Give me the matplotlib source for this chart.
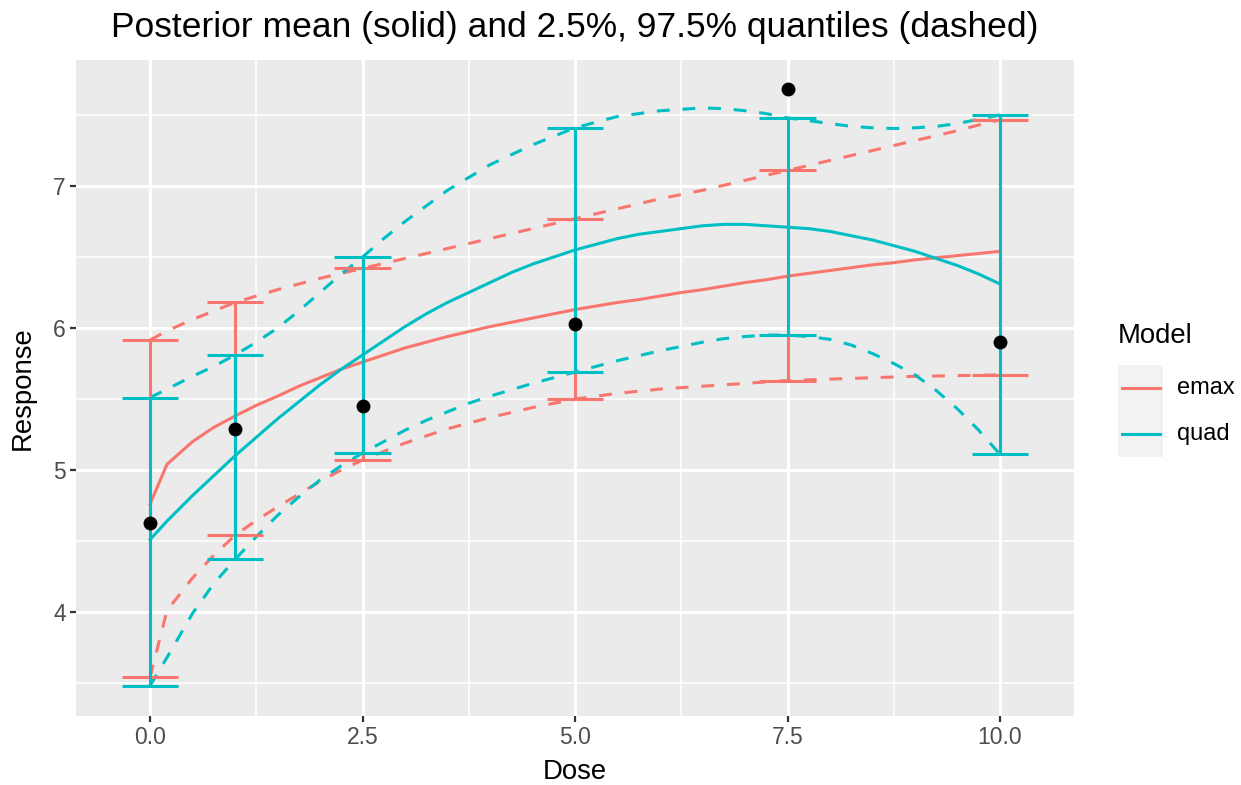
import numpy as np
import matplotlib
matplotlib.use("Agg")
import matplotlib.pyplot as plt
from matplotlib.patches import Rectangle
from matplotlib.lines import Line2D

plt.rcParams['font.family'] = ['Liberation Sans', 'DejaVu Sans']

# dose grid used for the posterior curves
doses = [0, 0.2, 0.5, 0.75, 1, 1.25, 1.5, 1.75, 2, 2.25, 2.5, 2.75, 3, 3.25, 3.5, 3.75,
         4, 4.25, 4.5, 4.75, 5, 5.25, 5.5, 5.75, 6, 6.25, 6.5, 6.75, 7, 7.25, 7.5, 7.75,
         8, 8.25, 8.5, 8.75, 9, 9.25, 9.5, 9.75, 10]

emax_mean = [4.76, 5.04, 5.20, 5.30, 5.38, 5.455, 5.52, 5.59, 5.65, 5.71, 5.76, 5.81, 5.86, 5.90,
             5.94, 5.975, 6.01, 6.04, 6.07, 6.10, 6.13, 6.155, 6.18, 6.20, 6.225, 6.25, 6.27,
             6.295, 6.32, 6.34, 6.365, 6.385, 6.405, 6.425, 6.445, 6.46, 6.48, 6.495, 6.51,
             6.525, 6.54]
emax_lo = [3.54, 4.01, 4.24, 4.40, 4.54, 4.645, 4.74, 4.83, 4.92, 5.00, 5.07, 5.13, 5.19, 5.24,
           5.29, 5.33, 5.37, 5.405, 5.44, 5.47, 5.50, 5.52, 5.54, 5.555, 5.57, 5.58, 5.59,
           5.60, 5.61, 5.62, 5.63, 5.635, 5.64, 5.645, 5.65, 5.655, 5.66, 5.662, 5.665,
           5.667, 5.67]
emax_hi = [5.915, 5.98, 6.06, 6.12, 6.18, 6.225, 6.27, 6.31, 6.35, 6.385, 6.42, 6.455, 6.49,
           6.525, 6.56, 6.595, 6.63, 6.665, 6.70, 6.735, 6.77, 6.805, 6.84, 6.875, 6.91, 6.94,
           6.97, 7.005, 7.04, 7.075, 7.11, 7.145, 7.18, 7.215, 7.25, 7.285, 7.32, 7.355,
           7.39, 7.43, 7.465]

quad_mean = [4.51, 4.64, 4.82, 4.96, 5.10, 5.23, 5.36, 5.48, 5.60, 5.71, 5.81, 5.91, 6.01, 6.10,
             6.18, 6.25, 6.32, 6.39, 6.45, 6.50, 6.55, 6.59, 6.63, 6.66, 6.68, 6.70, 6.72,
             6.73, 6.73, 6.72, 6.71, 6.70, 6.68, 6.65, 6.62, 6.58, 6.54, 6.49, 6.44, 6.38, 6.31]
quad_lo = [3.48, 3.68, 3.99, 4.20, 4.37, 4.53, 4.68, 4.81, 4.93, 5.03, 5.12, 5.20, 5.28, 5.35,
           5.41, 5.47, 5.52, 5.565, 5.61, 5.65, 5.69, 5.73, 5.77, 5.805, 5.84, 5.87, 5.90,
           5.925, 5.94, 5.95, 5.95, 5.94, 5.92, 5.88, 5.82, 5.75, 5.67, 5.56, 5.43, 5.28, 5.11]
quad_hi = [5.51, 5.57, 5.66, 5.73, 5.81, 5.90, 6.00, 6.12, 6.25, 6.38, 6.50, 6.63, 6.75, 6.86,
           6.97, 7.06, 7.15, 7.22, 7.29, 7.35, 7.41, 7.45, 7.49, 7.51, 7.53, 7.54, 7.55,
           7.545, 7.53, 7.51, 7.48, 7.46, 7.44, 7.42, 7.41, 7.405, 7.41, 7.42, 7.44, 7.47, 7.50]

# observed doses, responses and quantiles at those doses
obs_dose = [0, 1, 2.5, 5, 7.5, 10]
obs_resp = [4.63, 5.29, 5.45, 6.03, 7.68, 5.90]
emax_q025 = [3.54, 4.54, 5.07, 5.50, 5.63, 5.67]
emax_q975 = [5.915, 6.18, 6.42, 6.77, 7.11, 7.465]
quad_q025 = [3.48, 4.37, 5.12, 5.69, 5.95, 5.11]
quad_q975 = [5.51, 5.81, 6.50, 7.41, 7.48, 7.50]

models = ["emax", "quad"]
colors = {"emax": "#F8766D", "quad": "#00BFC4"}

fig = plt.figure(figsize=(12.41, 7.85), dpi=100)
ax = fig.add_axes([0.0615, 0.0885, 0.8037, 0.8348])
ax.set_facecolor("#EBEBEB")
for s in ax.spines.values():
    s.set_visible(False)

lw = 2.2
curves = {"emax": (emax_mean, emax_lo, emax_hi), "quad": (quad_mean, quad_lo, quad_hi)}
bars = {"emax": (emax_q025, emax_q975), "quad": (quad_q025, quad_q975)}

for m in models:
    mean, lo, hi = curves[m]
    ax.plot(doses, mean, color=colors[m], lw=lw, zorder=3)
for m in models:
    mean, lo, hi = curves[m]
    ax.plot(doses, lo, color=colors[m], lw=lw, ls=(0, (4.2, 4.2)), zorder=4)
    ax.plot(doses, hi, color=colors[m], lw=lw, ls=(0, (4.2, 4.2)), zorder=4)

hw = 0.333
for m in models:
    q1, q2 = bars[m]
    d = np.array(obs_dose)
    ax.vlines(d, q1, q2, color=colors[m], lw=lw, zorder=5)
    ax.hlines(q1, d - hw, d + hw, color=colors[m], lw=lw, zorder=5)
    ax.hlines(q2, d - hw, d + hw, color=colors[m], lw=lw, zorder=5)

ax.scatter(obs_dose, obs_resp, s=100, color="black", zorder=6, linewidths=0)

ax.set_xlim(-0.867, 10.867)
ax.set_ylim(3.271, 7.886)
ax.set_xticks([0, 2.5, 5, 7.5, 10])
ax.set_xticklabels(["0.0", "2.5", "5.0", "7.5", "10.0"])
ax.set_xticks([1.25, 3.75, 6.25, 8.75], minor=True)
ax.set_yticks([4, 5, 6, 7])
ax.set_yticks([3.5, 4.5, 5.5, 6.5, 7.5], minor=True)
ax.grid(which="major", color="white", lw=2.2)
ax.grid(which="minor", color="white", lw=1.1)
ax.set_axisbelow(True)
ax.tick_params(which="major", length=4.5, width=1.6, color="#333333",
               labelsize=16.5, labelcolor="#4D4D4D", pad=3.0)
ax.tick_params(which="minor", length=0)

fig.text(0.4633, 0.9650, "Posterior mean (solid) and 2.5%, 97.5% quantiles (dashed)",
         ha="center", va="center", fontsize=25.5)
fig.text(0.4633, 0.0166, "Dose", ha="center", va="center", fontsize=19.8)
fig.text(0.0185, 0.5057, "Response", ha="center", va="center", rotation=90, fontsize=19.8)

# legend
W, H = 1241.0, 785.0
fig.text(1118 / W, 1 - 336 / H, "Model", ha="left", va="center", fontsize=19.8)
for i, m in enumerate(models):
    top = 365 + i * 46
    fig.add_artist(Rectangle((1118 / W, 1 - (top + 46) / H), 45 / W, 46 / H,
                             transform=fig.transFigure, facecolor="#F2F2F2", edgecolor="none"))
    yc = 1 - (top + 23) / H
    fig.add_artist(Line2D([1122 / W, 1160 / W], [yc, yc], transform=fig.transFigure,
                          color=colors[m], lw=lw))
    fig.text(1177 / W, yc, m, ha="left", va="center", fontsize=17)

fig.savefig("out.png", dpi=100)
